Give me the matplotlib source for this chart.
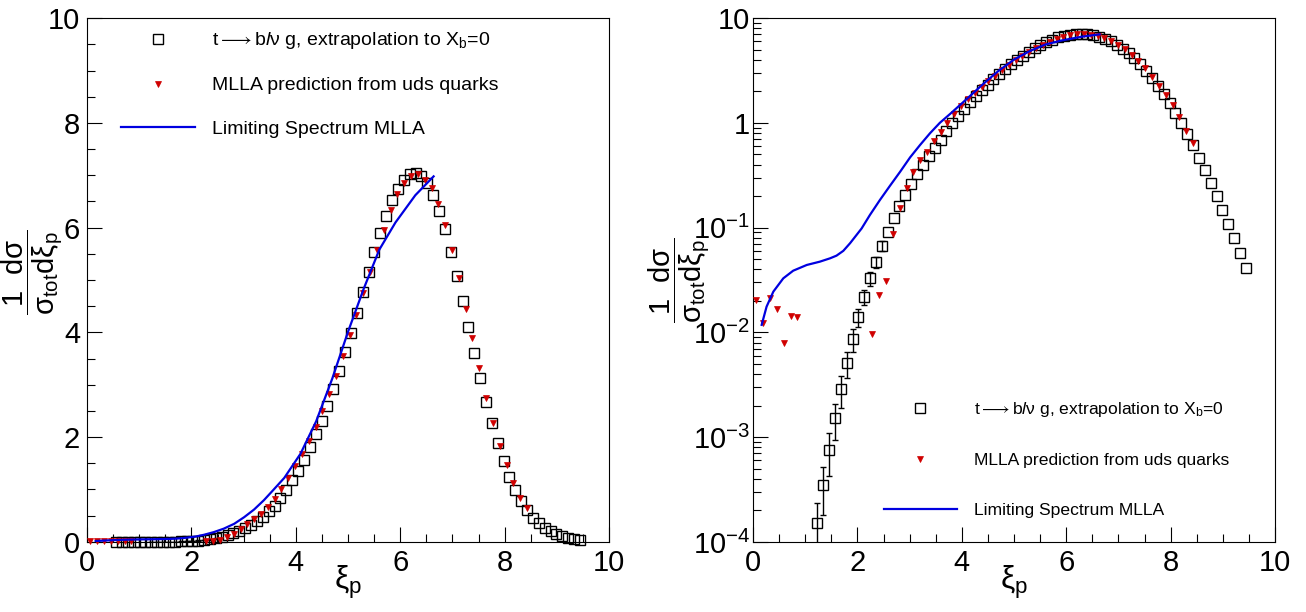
import numpy as np
import matplotlib
matplotlib.use("Agg")
import matplotlib.pyplot as plt
from matplotlib.ticker import MultipleLocator, LogLocator, FuncFormatter, NullFormatter

plt.rcParams["font.family"] = ["Liberation Sans", "DejaVu Sans"]
plt.rcParams["mathtext.fontset"] = "custom"
plt.rcParams["mathtext.rm"] = "Liberation Sans"
plt.rcParams["mathtext.it"] = "Liberation Sans:italic"
plt.rcParams["mathtext.bf"] = "Liberation Sans:bold"

# t -> b l nu g, extrapolated to X_b = 0 : 80 bins between xi_p = 0.5 and 9.5
data_edges = np.linspace(0.5, 9.5, 81)
data_val = [5e-5, 5e-5, 5e-5, 5e-5, 5e-5, 5e-5,
            1.51e-4, 3.5e-4, 7.55e-4, 1.51e-3, 2.86e-3, 5.1e-3, 8.65e-3, 0.0141,
            0.0219, 0.033, 0.047, 0.067, 0.091, 0.123, 0.162, 0.205, 0.26, 0.324,
            0.395, 0.48, 0.58, 0.69, 0.836, 0.99, 1.17, 1.36, 1.57, 1.80, 2.05,
            2.31, 2.60, 2.92, 3.27, 3.62, 3.98, 4.36, 4.77, 5.15, 5.54, 5.90, 6.23,
            6.52, 6.74, 6.92, 7.03, 7.05, 6.99, 6.85, 6.62, 6.32, 5.97, 5.54, 5.08,
            4.60, 4.11, 3.61, 3.13, 2.67, 2.26, 1.88, 1.55, 1.24, 0.99, 0.78, 0.61,
            0.461, 0.355, 0.267, 0.199, 0.147, 0.108, 0.079, 0.0577, 0.0415]
# errors only where they stick out of the markers
data_err = [np.nan] * 6 + [8.3e-5, 1.7e-4, 3.3e-4, 5.7e-4, 9.4e-4, 1.4e-3,
                           2.2e-3, 2.8e-3, 3.7e-3, 5.1e-3, 5.6e-3, 7e-3] + [np.nan] * 62

# MLLA prediction from uds quarks (bins of 0.1307, empty where <= 0)
mlla_step = 0.1307
mlla_val = [0.0204, 0.0124, 0.0211, 0.0166, 0.0080, 0.0144, 0.0139,
            np.nan, np.nan, np.nan, np.nan, np.nan, np.nan, np.nan, np.nan, np.nan, np.nan,
            0.0096, 0.0227, 0.0311, 0.0863, 0.155, 0.237, 0.342, 0.442, 0.53, 0.67,
            0.81, 1.0, 1.21, 1.44, 1.68, 1.93, 2.2, 2.5, 2.82, 3.17, 3.55, 3.95,
            4.33, 4.75, 5.16, 5.57, 5.95, 6.33, 6.64, 6.85, 6.99, 7.02, 6.92, 6.75,
            6.45, 6.05, 5.57, 5.04, 4.44, 3.89, 3.31, 2.74, 2.26, 1.83, 1.47, 1.13,
            0.83, 0.64]

# limiting spectrum MLLA
ls_xi = [0.166, 0.26, 0.39, 0.58, 0.77, 1.03, 1.28, 1.475, 1.6, 1.73, 1.86, 2.08,
         2.24, 2.43, 2.62, 2.82, 3.01, 3.2, 3.39, 3.58, 3.78, 4.09, 4.39, 4.7,
         5.0, 5.3, 5.6, 5.91, 6.29, 6.64]
ls_val = [0.0118, 0.0176, 0.0245, 0.0328, 0.0388, 0.044, 0.0473, 0.0509, 0.054,
          0.060, 0.071, 0.098, 0.132, 0.183, 0.249, 0.342, 0.468, 0.614, 0.794, 1.0,
          1.22, 1.68, 2.30, 3.12, 4.01, 4.83, 5.58, 6.1, 6.62, 6.98]

labels = [r"t$\longrightarrow$b$\mathit{l}$ν g, extrapolation to X$_{\rm b}$=0",
          "MLLA prediction from uds quarks",
          "Limiting Spectrum MLLA"]

data_xi = 0.5 * (data_edges[:-1] + data_edges[1:])
mlla_xi = mlla_step * (np.arange(len(mlla_val)) + 0.5)

W, H = 1306, 612
fig = plt.figure(figsize=(W / 100, H / 100), dpi=100)
ax1 = fig.add_axes([87 / W, 70.3 / H, 522 / W, 523.4 / H])
ax2 = fig.add_axes([753 / W, 70 / H, 522 / W, 524 / H])

ylabel = r"$\dfrac{1\ \ \mathrm{dσ}}{\mathrm{σ}_{\mathrm{tot}}\mathrm{dξ}_{\mathrm{p}}}$"


def log_label(v, pos):
    e = int(round(np.log10(v)))
    if e == 1:
        return "10"
    if e == 0:
        return "1"
    return r"$10^{%d}$" % e


def draw(ax, log):
    ax.errorbar(data_xi, data_val, yerr=data_err, fmt="none", ecolor="black",
                elinewidth=1, capsize=2, capthick=1, zorder=2)
    sq, = ax.plot(data_xi, data_val, ls="none", marker="s", ms=7, mfc="none",
                  mec="black", mew=1.0, clip_on=log, zorder=3)
    tri, = ax.plot(mlla_xi, mlla_val, ls="none", marker="v", ms=5, mfc="#d00000",
                   mec="#d00000", mew=0.5, clip_on=log, zorder=4)
    ln, = ax.plot(ls_xi, ls_val, color="#0000e0", lw=1.6, zorder=5)

    ax.set_xlim(0, 10)
    ax.xaxis.set_major_locator(MultipleLocator(2))
    ax.xaxis.set_minor_locator(MultipleLocator(0.5))
    if log:
        ax.set_yscale("log")
        ax.set_ylim(1e-4, 10)
        ax.yaxis.set_major_locator(LogLocator(base=10))
        ax.yaxis.set_minor_locator(LogLocator(base=10, subs=np.arange(2, 10)))
        ax.yaxis.set_major_formatter(FuncFormatter(log_label))
        ax.yaxis.set_minor_formatter(NullFormatter())
    else:
        ax.set_ylim(0, 10)
        ax.yaxis.set_major_locator(MultipleLocator(2))
        ax.yaxis.set_minor_locator(MultipleLocator(0.5))

    ax.tick_params(which="both", direction="in", top=False, right=False,
                   width=0.8, labelsize=21)
    ax.tick_params(which="major", length=10.5)
    ax.tick_params(which="minor", length=5.5)
    ax.tick_params(axis="x", pad=5)
    ax.tick_params(axis="y", pad=2 if log else 5)
    for s in ax.spines.values():
        s.set_linewidth(0.8)

    ax.set_xlabel(r"ξ$_{\rm p}$", fontsize=23)
    ax.xaxis.set_label_coords(0.5, -0.042)
    ax.set_ylabel(ylabel, fontsize=21)
    return sq, tri, ln


h = draw(ax1, False)
ax1.yaxis.set_label_coords(-0.042, 0.515)
ax1.legend(h, labels, loc="upper left", bbox_to_anchor=(0.0644, 0.977),
           frameon=False, fontsize=14, handlelength=3.8, handletextpad=0.88,
           labelspacing=1.31, borderpad=0, borderaxespad=0, numpoints=1)

h = draw(ax2, True)
ax2.yaxis.set_label_coords(-0.0785, 0.5)
ax2.legend(h, labels, loc="upper left", bbox_to_anchor=(0.25, 0.271),
           frameon=False, fontsize=12.6, handlelength=4.2, handletextpad=0.97,
           labelspacing=1.95, borderpad=0, borderaxespad=0, numpoints=1)

fig.savefig("out.png", dpi=100)
